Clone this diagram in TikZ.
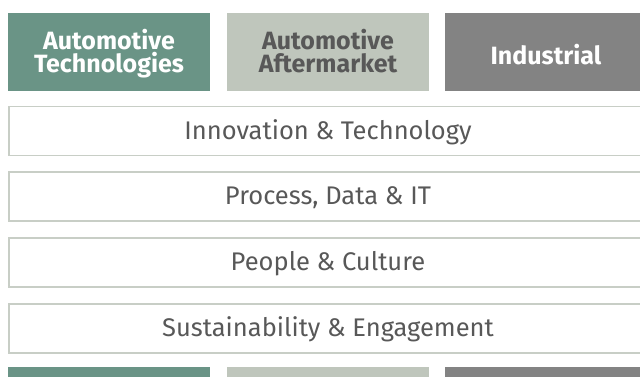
\documentclass[tikz,border=0pt]{standalone}
\usepackage{fontspec}
\setmainfont{Fira Sans}
\definecolor{cgreen}{HTML}{6A9486}
\definecolor{clight}{HTML}{BFC6BC}
\definecolor{cdark}{HTML}{838383}
\definecolor{cborder}{HTML}{C8CEC6}
\definecolor{ctext}{HTML}{585858}
\begin{document}
\begin{tikzpicture}[x=1pt,y=1pt,
  seg/.style={minimum width=202pt, minimum height=78pt, inner sep=0pt, align=center,
    text height=41.4pt, text depth=0pt,
    font=\fontsize{25}{23.4}\selectfont\bfseries},
  segone/.style={seg, text height=30pt, text depth=6pt},
  strip/.style={minimum width=202pt, minimum height=20pt, inner sep=0pt},
  wide/.style={draw=cborder, line width=1.3pt, fill=white, minimum width=638pt, minimum height=49pt,
    inner sep=0pt, text=ctext, text height=17.5pt, text depth=1.5pt,
    font=\fontsize{25.5}{28}\selectfont}]
\useasboundingbox (0,0) rectangle (640,376);
\clip (0,0) rectangle (640,376);
\node[seg, fill=cgreen, text=white] (at) at (109,324) {Automotive\\Technologies};
\node[seg, fill=clight, text=ctext] (aa) at (328,324) {Automotive\\Aftermarket};
\node[segone, fill=cdark, text=white] (ind) at (546,324) {Industrial};
\node[wide] (inno) at (328,245) {Innovation \& Technology};
\node[wide] (proc) at (328,179.5) {Process, Data \& IT};
\node[wide] (peop) at (328,113.5) {People \& Culture};
\node[wide] (sust) at (328,47.5) {Sustainability \& Engagement};
\node[strip, fill=cgreen] (b1) at (109,-1) {};
\node[strip, fill=clight] (b2) at (328,-1) {};
\node[strip, fill=cdark] (b3) at (546,-1) {};
\end{tikzpicture}
\end{document}
